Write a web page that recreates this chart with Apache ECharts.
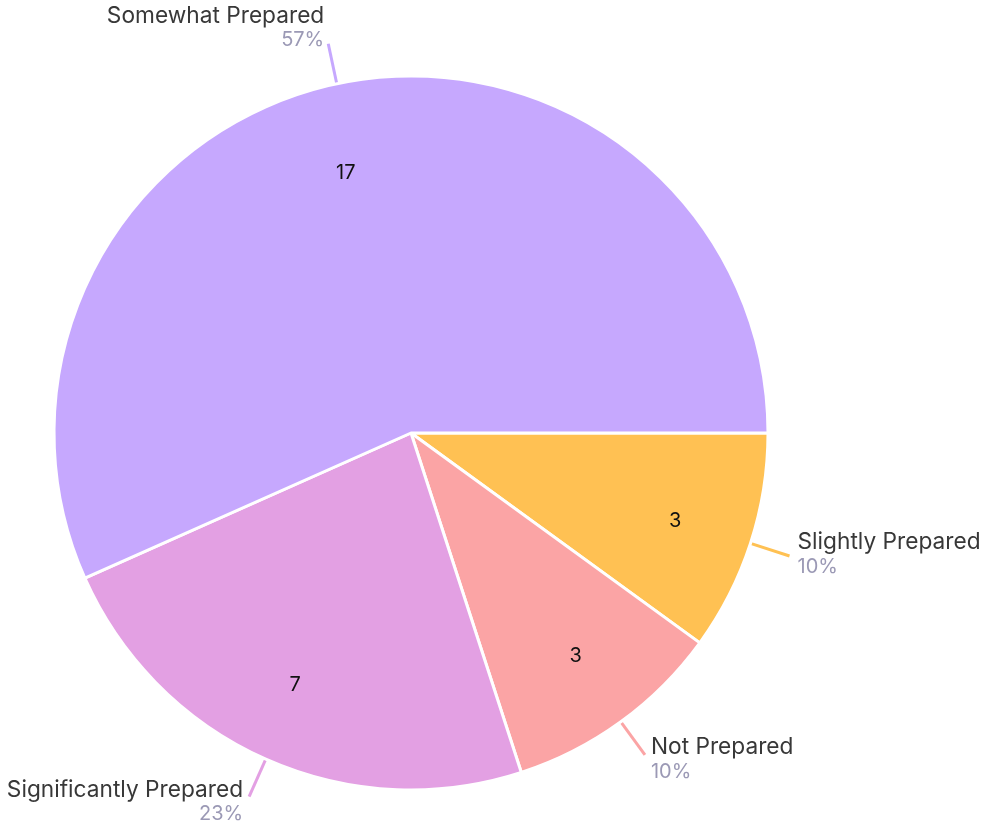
<!DOCTYPE html>
<html><head><meta charset="utf-8">
<script src="https://cdn.jsdelivr.net/npm/echarts@6/dist/echarts.min.js"></script>
<style>html,body{margin:0;padding:0;background:#fff}#c{width:985px;height:828px}</style>
</head><body><div id="c"></div>
<script>
const categories = ['Slightly Prepared', 'Not Prepared', 'Significantly Prepared', 'Somewhat Prepared'];
const values = [3, 3, 7, 17];
const colors = ['#ffc153', '#fba4a5', '#e3a0e3', '#c6a8fe'];

// small per-slice label nudges (styling only)
const outerNudge = [[2, -2], [0, 4], [0, 5], [2, -16]];
const innerNudge = [[-2, 1], [0, -4], [-2, -4], [-7, 14]];

const data = categories.map((c, i) => ({ name: c, value: values[i], itemStyle: { color: colors[i] } }));
const FONT = 'Inter, "Noto Sans", sans-serif';
const chart = echarts.init(document.getElementById('c'), null, { renderer: 'canvas' });
chart.setOption({
  animation: false,
  series: [
    {
      type: 'pie',
      center: [411, 433],
      radius: [0, 357],
      startAngle: 0,
      clockwise: true,
      avoidLabelOverlap: false,
      itemStyle: { borderColor: '#fff', borderWidth: 3 },
      label: {
        show: true,
        position: 'outside',
        distanceToLabelLine: 6,
        formatter: p => '{n|' + p.name + '}\n{p|' + Math.round(p.percent) + '%}',
        rich: {
          n: { fontFamily: FONT, fontSize: 22.7, color: '#383838', lineHeight: 25 },
          p: { fontFamily: FONT, fontSize: 20, color: '#9b99b5', lineHeight: 23 }
        }
      },
      labelLine: { show: true, length: 41, length2: 0, smooth: false, lineStyle: { width: 3 } },
      labelLayout: function (params) {
        const n = outerNudge[params.dataIndex];
        return { dx: n[0], dy: n[1] };
      },
      data: data
    },
    {
      type: 'pie',
      center: [411, 433],
      radius: [197, 357],
      startAngle: 0,
      clockwise: true,
      silent: true,
      itemStyle: { color: 'rgba(0,0,0,0)', borderWidth: 0 },
      label: {
        show: true,
        position: 'inside',
        formatter: '{c}',
        fontFamily: FONT,
        fontSize: 20,
        color: '#111'
      },
      labelLine: { show: false },
      labelLayout: function (params) {
        const n = innerNudge[params.dataIndex];
        return { dx: n[0], dy: n[1] };
      },
      data: values.map((v, i) => ({ name: categories[i], value: v }))
    }
  ]
});
</script></body></html>
